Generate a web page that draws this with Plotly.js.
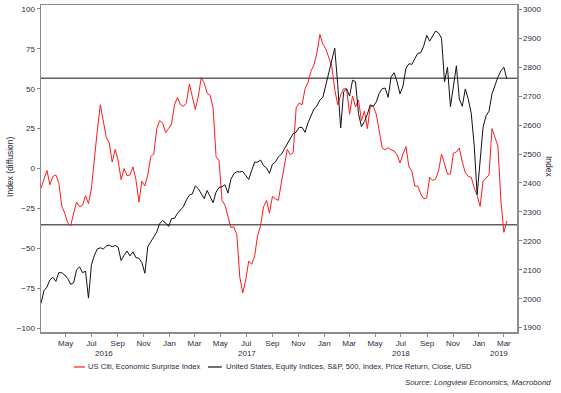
<!DOCTYPE html>
<html>
<head>
<meta charset="utf-8">
<script src="https://cdn.plot.ly/plotly-3.0.1.min.js"></script>
<style>html,body{margin:0;padding:0;background:#fff;}#chart{width:561px;height:393px;}</style>
</head>
<body>
<div id="chart"></div>
<script>
const dates = [
'2016-03-04','2016-03-11','2016-03-18','2016-03-25','2016-04-01','2016-04-08','2016-04-15','2016-04-22','2016-04-29','2016-05-06',
'2016-05-13','2016-05-20','2016-05-27','2016-06-03','2016-06-10','2016-06-17','2016-06-24','2016-07-01','2016-07-08','2016-07-15',
'2016-07-22','2016-07-29','2016-08-05','2016-08-12','2016-08-19','2016-08-26','2016-09-02','2016-09-09','2016-09-16','2016-09-23',
'2016-09-30','2016-10-07','2016-10-14','2016-10-21','2016-10-28','2016-11-04','2016-11-11','2016-11-18','2016-11-25','2016-12-02',
'2016-12-09','2016-12-16','2016-12-23','2016-12-30','2017-01-06','2017-01-13','2017-01-20','2017-01-27','2017-02-03','2017-02-10',
'2017-02-17','2017-02-24','2017-03-03','2017-03-10','2017-03-17','2017-03-24','2017-03-31','2017-04-07','2017-04-14','2017-04-21',
'2017-04-28','2017-05-05','2017-05-12','2017-05-19','2017-05-26','2017-06-02','2017-06-09','2017-06-16','2017-06-23','2017-06-30',
'2017-07-07','2017-07-14','2017-07-21','2017-07-28','2017-08-04','2017-08-11','2017-08-18','2017-08-25','2017-09-01','2017-09-08',
'2017-09-15','2017-09-22','2017-09-29','2017-10-06','2017-10-13','2017-10-20','2017-10-27','2017-11-03','2017-11-10','2017-11-17',
'2017-11-24','2017-12-01','2017-12-08','2017-12-15','2017-12-22','2017-12-29','2018-01-05','2018-01-12','2018-01-19','2018-01-26',
'2018-02-02','2018-02-09','2018-02-16','2018-02-23','2018-03-02','2018-03-09','2018-03-16','2018-03-23','2018-03-30','2018-04-06',
'2018-04-13','2018-04-20','2018-04-27','2018-05-04','2018-05-11','2018-05-18','2018-05-25','2018-06-01','2018-06-08','2018-06-15',
'2018-06-22','2018-06-29','2018-07-06','2018-07-13','2018-07-20','2018-07-27','2018-08-03','2018-08-10','2018-08-17','2018-08-24',
'2018-08-31','2018-09-07','2018-09-14','2018-09-21','2018-09-28','2018-10-05','2018-10-12','2018-10-19','2018-10-26','2018-11-02',
'2018-11-09','2018-11-16','2018-11-23','2018-11-30','2018-12-07','2018-12-14','2018-12-21','2018-12-28','2019-01-04','2019-01-11',
'2019-01-18','2019-01-25','2019-02-01','2019-02-08','2019-02-15','2019-02-22','2019-03-01','2019-03-08'
];

const surprise = [
-12.3, -7, -1.2, -10.2, -5, -4, -9, -23.5, -28, -34,
-36, -28, -21, -24, -23, -17, -22, -12.3, 8.5, 24.2,
40, 30, 19.5, 16, 4, 12, 5, -7, 0, -4.5,
-4, 1, -7, -21, -8, -11, -4, 7.5, 9, 25,
30, 28.5, 22.5, 25, 28, 40, 44.5, 40, 39, 41,
53, 45, 37, 45, 57, 53.5, 47, 46, 38, 7.5,
5, -20, -23, -30, -37, -36.5, -41.5, -68, -78, -70,
-58, -60, -55, -42, -36, -24, -20, -28, -17.5, -19,
-20, -9, 1, 12, 8.6, 10, 38, 41, 40, 50,
54, 61, 65, 72.5, 84, 78, 75, 69, 64, 49.5,
40, 46, 50, 50, 34, 45.5, 38.6, 43, 30, 36,
25, 39, 39, 34, 22, 13, 11.7, 13, 11.7, 11,
8.5, 3.5, 9, 13.8, 1, -1.8, -11, -11, -16, -19,
-18.5, -5.5, -7.5, -6.5, -1.5, 9, 3, -3.5, -3.4, 9.6,
10.4, 12.8, 4, -2.6, -5, -5.5, -12, -17, -23.8, -8,
-6, -4, 25, 20, 14, -20, -40, -33
];

const spx = [
1984, 2028, 2040, 2065, 2074, 2060, 2090, 2090, 2082, 2070,
2050, 2055, 2100, 2110, 2090, 2095, 2002, 2118, 2150, 2172,
2176, 2172, 2182, 2185, 2180, 2184, 2178, 2132, 2150, 2165,
2148, 2162, 2142, 2140, 2125, 2088, 2180, 2198, 2212, 2230,
2260, 2270, 2262, 2250, 2277, 2278, 2295, 2305, 2318, 2341,
2358, 2362, 2390, 2380, 2364, 2346, 2374, 2353, 2332, 2368,
2385, 2387, 2394, 2365, 2413, 2432, 2439, 2438, 2440, 2426,
2412, 2443, 2472, 2472, 2479, 2460, 2452, 2433, 2465, 2472,
2490, 2499, 2517, 2540, 2555, 2571, 2576, 2592, 2592, 2575,
2608, 2635, 2656, 2666, 2687, 2696, 2738, 2772, 2823, 2866,
2740, 2590, 2715, 2725, 2700, 2755, 2750, 2640, 2595, 2612,
2638, 2670, 2665, 2680, 2710, 2726, 2728, 2696, 2767, 2781,
2750, 2708, 2735, 2796, 2812, 2810, 2830, 2848, 2850, 2874,
2910, 2890, 2908, 2925, 2918, 2900, 2750, 2800, 2664, 2730,
2805, 2690, 2665, 2725, 2690, 2641, 2530, 2360, 2480, 2593,
2632, 2648, 2708, 2738, 2766, 2787, 2800, 2760
];

const thresholds = [56.6, -35.3];

const monthTicks = ['2016-05-01','2016-07-01','2016-09-01','2016-11-01','2017-01-01','2017-03-01','2017-05-01','2017-07-01','2017-09-01','2017-11-01','2018-01-01','2018-03-01','2018-05-01','2018-07-01','2018-09-01','2018-11-01','2019-01-01','2019-03-01'];
const monthLabels = ['May','Jul','Sep','Nov','Jan','Mar','May','Jul','Sep','Nov','Jan','Mar','May','Jul','Sep','Nov','Jan','Mar'];
const yearLabels = ['2016','2017','2018','2019'];
const yearCenters = ['2016-07-31','2017-07-02','2018-07-02','2019-02-17'];

const leftTicks = [-100, -75, -50, -25, 0, 25, 50, 75, 100];
const rightTicks = [1900, 2000, 2100, 2200, 2300, 2400, 2500, 2600, 2700, 2800, 2900, 3000];

const seriesNames = ['US Citi, Economic Surprise Index', 'United States, Equity Indices, S&P, 500, Index, Price Return, Close, USD'];
const seriesColors = ['#ff1a1a', '#111111'];

const FONT = '"Liberation Sans", Arial, sans-serif';
const TXT = '#2b2b3d';
const AX = '#8c8c8c';

const traces = [
  {x: dates, y: surprise, type: 'scatter', mode: 'lines', name: seriesNames[0], line: {color: seriesColors[0], width: 1}, yaxis: 'y', showlegend: false},
  {x: dates, y: spx, type: 'scatter', mode: 'lines', name: seriesNames[1], line: {color: seriesColors[1], width: 1}, yaxis: 'y2', showlegend: false}
];

const shapes = thresholds.map(v => ({type: 'line', xref: 'paper', x0: 0, x1: 1, yref: 'y', y0: v, y1: v, line: {color: '#606060', width: 1.5}, layer: 'below'}));

// legend built from line samples + text
shapes.push({type: 'line', xref: 'paper', yref: 'paper', x0: 0.069, x1: 0.092, y0: -0.107, y1: -0.107, line: {color: seriesColors[0], width: 1.2}});
shapes.push({type: 'line', xref: 'paper', yref: 'paper', x0: 0.351, x1: 0.380, y0: -0.107, y1: -0.107, line: {color: seriesColors[1], width: 1.2}});

const annotations = [];
yearLabels.forEach((t, i) => annotations.push({x: yearCenters[i], xref: 'x', y: -0.065, yref: 'paper', text: t, showarrow: false, xanchor: 'center', yanchor: 'middle', font: {family: FONT, size: 8, color: TXT}}));
annotations.push({x: 0.0945, xref: 'paper', y: -0.107, yref: 'paper', text: seriesNames[0], showarrow: false, xanchor: 'left', yanchor: 'middle', font: {family: FONT, size: 7.6, color: TXT}});
annotations.push({x: 0.384, xref: 'paper', y: -0.107, yref: 'paper', text: seriesNames[1], showarrow: false, xanchor: 'left', yanchor: 'middle', font: {family: FONT, size: 7.6, color: TXT}});
annotations.push({x: 1.075, xref: 'paper', y: -0.153, yref: 'paper', text: '<i>Source: Longview Economics, Macrobond</i>', showarrow: false, xanchor: 'right', yanchor: 'middle', font: {family: FONT, size: 7.8, color: TXT}});
annotations.push({x: -0.065, xref: 'paper', y: 0.505, yref: 'paper', text: 'Index (diffusion)', textangle: -90, showarrow: false, xanchor: 'center', yanchor: 'middle', font: {family: FONT, size: 8.5, color: TXT}});
annotations.push({x: 1.067, xref: 'paper', y: 0.505, yref: 'paper', text: 'Index', textangle: 90, showarrow: false, xanchor: 'center', yanchor: 'middle', font: {family: FONT, size: 8.5, color: TXT}});

const layout = {
  width: 561, height: 393,
  margin: {l: 41, r: 44, t: 5, b: 61, pad: 0},
  paper_bgcolor: '#ffffff', plot_bgcolor: '#ffffff',
  font: {family: FONT, size: 8, color: TXT},
  showlegend: false,
  xaxis: {
    type: 'date', range: ['2016-03-04', '2019-04-01'],
    tickmode: 'array', tickvals: monthTicks, ticktext: monthLabels,
    ticks: 'outside', ticklen: 3, tickcolor: AX, tickwidth: 1,
    ticklabelstandoff: 0,
    showline: true, linecolor: AX, linewidth: 1.5, mirror: true,
    showgrid: false, zeroline: false,
    tickfont: {family: FONT, size: 8, color: TXT}
  },
  yaxis: {
    range: [-102.5, 102.5], tickmode: 'array', tickvals: leftTicks,
    ticks: 'outside', ticklen: 3, tickcolor: AX,
    showline: true, linecolor: AX, linewidth: 1.5,
    showgrid: false, zeroline: false,
    tickfont: {family: FONT, size: 8, color: TXT}
  },
  yaxis2: {
    overlaying: 'y', side: 'right',
    range: [1885, 3015], tickmode: 'array', tickvals: rightTicks,
    ticks: 'outside', ticklen: 3, tickcolor: AX,
    showline: true, linecolor: AX, linewidth: 1.5,
    showgrid: false, zeroline: false,
    tickfont: {family: FONT, size: 8, color: TXT}
  },
  shapes: shapes,
  annotations: annotations
};

Plotly.newPlot('chart', traces, layout, {displayModeBar: false, staticPlot: true});
</script>
</body>
</html>
